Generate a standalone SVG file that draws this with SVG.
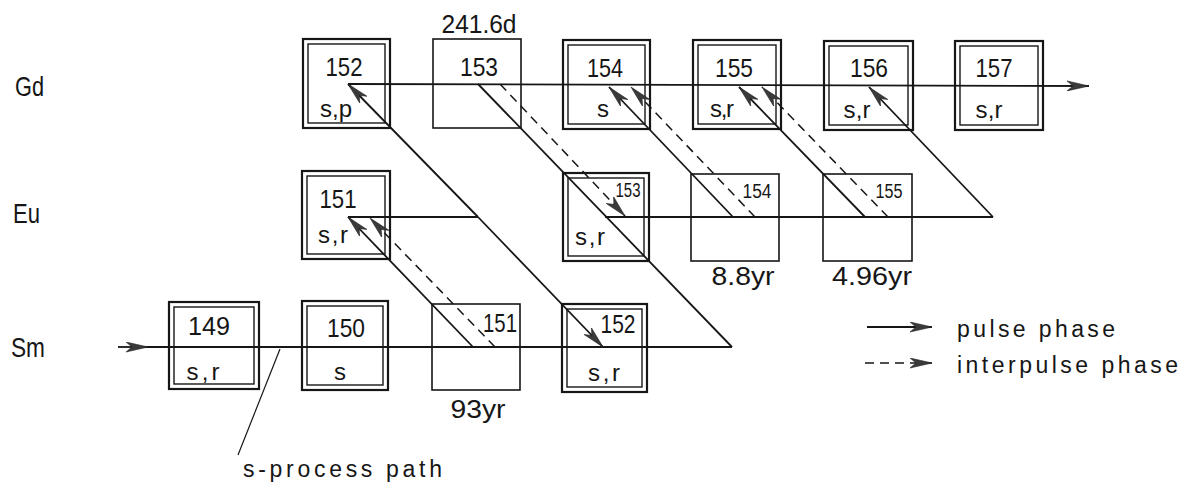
<svg xmlns="http://www.w3.org/2000/svg" width="1184" height="484" viewBox="0 0 1184 484">
  <style>
    text { font-family: "Liberation Sans", Arial, sans-serif; fill: #161616; }
    .num { font-size: 25px; text-anchor: middle; }
    .sm-num { font-size: 20px; text-anchor: middle; }
    .tag { font-size: 24px; text-anchor: middle; }
    .half { font-size: 26px; text-anchor: middle; }
    .elem { font-size: 28px; }
    .note { font-size: 23px; }
    .outer { fill: none; stroke: #161616; stroke-width: 2.2; }
    .inner { fill: none; stroke: #161616; stroke-width: 1.4; }
    .single { fill: none; stroke: #161616; stroke-width: 1.6; }
    .path { fill: none; stroke: #161616; stroke-width: 1.8; }
    .dash { fill: none; stroke: #161616; stroke-width: 1.5; stroke-dasharray: 9 6; }
    .thin { fill: none; stroke: #161616; stroke-width: 1.2; }
  </style>
  <defs>
    <marker id="dart" markerUnits="userSpaceOnUse" markerWidth="23" markerHeight="11" refX="22" refY="5.5" orient="auto">
      <path d="M0,0.5 L22,5.5 L0,10.5 L6,5.5 Z" fill="#3a3a3a" stroke="#222" stroke-width="0.6"/>
    </marker>
  </defs>
  <rect width="1184" height="484" fill="#ffffff"/>

  <!-- element rows -->
  <g id="row-labels">
    <text class="elem" x="15" y="96" textLength="29" lengthAdjust="spacingAndGlyphs">Gd</text>
    <text class="elem" x="13" y="223" textLength="27" lengthAdjust="spacingAndGlyphs">Eu</text>
    <text class="elem" x="11" y="357" textLength="34" lengthAdjust="spacingAndGlyphs">Sm</text>
  </g>

  <!-- Gd isotopes -->
  <g id="gd152">
    <rect class="outer" x="303" y="39" width="87" height="89"/>
    <rect class="inner" x="308" y="44" width="77" height="79"/>
    <text class="num" x="344" y="76" textLength="37" lengthAdjust="spacingAndGlyphs">152</text>
    <text class="tag" x="336" y="117" textLength="32">s,p</text>
  </g>
  <g id="gd153">
    <rect class="single" x="433" y="39" width="88" height="89"/>
    <text class="num" x="479" y="76" textLength="38" lengthAdjust="spacingAndGlyphs">153</text>
    <text class="half" x="479" y="33" textLength="75" lengthAdjust="spacingAndGlyphs">241.6d</text>
  </g>
  <g id="gd154">
    <rect class="outer" x="563" y="40" width="87" height="89"/>
    <rect class="inner" x="568" y="45" width="77" height="79"/>
    <text class="num" x="605" y="77" textLength="36" lengthAdjust="spacingAndGlyphs">154</text>
    <text class="tag" x="603" y="117">s</text>
  </g>
  <g id="gd155">
    <rect class="outer" x="693" y="40" width="88" height="89"/>
    <rect class="inner" x="698" y="45" width="78" height="79"/>
    <text class="num" x="734" y="77" textLength="38" lengthAdjust="spacingAndGlyphs">155</text>
    <text class="tag" x="722" y="117" textLength="24">s,r</text>
  </g>
  <g id="gd156">
    <rect class="outer" x="824" y="41" width="89" height="89"/>
    <rect class="inner" x="829" y="46" width="79" height="79"/>
    <text class="num" x="869" y="77" textLength="38" lengthAdjust="spacingAndGlyphs">156</text>
    <text class="tag" x="857" y="118" textLength="27">s,r</text>
  </g>
  <g id="gd157">
    <rect class="outer" x="955" y="41" width="88" height="89"/>
    <rect class="inner" x="960" y="46" width="78" height="79"/>
    <text class="num" x="994" y="77" textLength="37" lengthAdjust="spacingAndGlyphs">157</text>
    <text class="tag" x="989" y="118" textLength="27">s,r</text>
  </g>

  <!-- Eu isotopes -->
  <g id="eu151">
    <rect class="outer" x="302" y="171" width="88" height="88"/>
    <rect class="inner" x="307" y="176" width="78" height="78"/>
    <text class="num" x="338" y="208" textLength="37" lengthAdjust="spacingAndGlyphs">151</text>
    <text class="tag" x="333" y="243" textLength="30">s,r</text>
  </g>
  <g id="eu153">
    <rect class="outer" x="563" y="173" width="86" height="88"/>
    <rect class="inner" x="568" y="178" width="76" height="78"/>
    <text class="sm-num" x="628" y="197" font-size="18" textLength="25" lengthAdjust="spacingAndGlyphs">153</text>
    <text class="tag" x="590" y="245" textLength="30">s,r</text>
  </g>
  <g id="eu154">
    <rect class="single" x="691" y="174" width="88" height="87"/>
    <text class="sm-num" x="757" y="198" textLength="29" lengthAdjust="spacingAndGlyphs">154</text>
    <text class="half" x="743" y="285" textLength="63" lengthAdjust="spacingAndGlyphs">8.8yr</text>
  </g>
  <g id="eu155">
    <rect class="single" x="823" y="174" width="89" height="87"/>
    <text class="sm-num" x="889" y="198" textLength="27" lengthAdjust="spacingAndGlyphs">155</text>
    <text class="half" x="872" y="285" textLength="80" lengthAdjust="spacingAndGlyphs">4.96yr</text>
  </g>

  <!-- Sm isotopes -->
  <g id="sm149">
    <rect class="outer" x="169" y="302" width="90" height="87"/>
    <rect class="inner" x="174" y="307" width="80" height="77"/>
    <text class="num" x="209" y="335" textLength="42" lengthAdjust="spacingAndGlyphs">149</text>
    <text class="tag" x="203" y="380" textLength="33">s,r</text>
  </g>
  <g id="sm150">
    <rect class="outer" x="302" y="301" width="86" height="89"/>
    <rect class="inner" x="307" y="306" width="76" height="79"/>
    <text class="num" x="346" y="337" textLength="38" lengthAdjust="spacingAndGlyphs">150</text>
    <text class="tag" x="340" y="380">s</text>
  </g>
  <g id="sm151">
    <rect class="single" x="432" y="304" width="88" height="86"/>
    <text class="num" x="500" y="332" textLength="34" lengthAdjust="spacingAndGlyphs">151</text>
    <text class="half" x="478" y="418" font-size="25" textLength="55" lengthAdjust="spacingAndGlyphs">93yr</text>
  </g>
  <g id="sm152">
    <rect class="outer" x="562" y="304" width="85" height="88"/>
    <rect class="inner" x="567" y="309" width="75" height="78"/>
    <text class="num" x="618" y="333" textLength="35" lengthAdjust="spacingAndGlyphs">152</text>
    <text class="tag" x="604" y="381" textLength="32">s,r</text>
  </g>

  <!-- reaction paths -->
  <g id="connectors">
    <!-- neutron captures along each row -->
    <path class="path" d="M348,84 L1089,86" marker-end="url(#dart)"/>
    <path class="path" d="M348,217 L478,217"/>
    <path class="path" d="M605,217 L993,217"/>
    <path class="path" d="M118,347 L148,347" marker-end="url(#dart)"/>
    <path class="path" d="M147,347 L732,347"/>

    <!-- beta branchings -->
    <path class="path" d="M478,84 L732,347"/>
    <path class="path" d="M478,217 L348,84" marker-end="url(#dart)"/>
    <path class="path" d="M478,217 L603,347" marker-end="url(#dart)"/>
    <path class="path" d="M473,347 L348,217" marker-end="url(#dart)"/>
    <path class="dash" d="M495,347 L370,218" marker-end="url(#dart)"/>
    <path class="dash" d="M500,84 L625,216" marker-end="url(#dart)"/>
    <path class="path" d="M733,217 L609,87" marker-end="url(#dart)"/>
    <path class="dash" d="M755,217 L631,87" marker-end="url(#dart)"/>
    <path class="path" d="M865,217 L739,87" marker-end="url(#dart)"/>
    <path class="dash" d="M888,217 L762,87" marker-end="url(#dart)"/>
    <path class="path" d="M993,217 L869,87" marker-end="url(#dart)"/>
  </g>

  <!-- s-process path callout -->
  <g id="callout">
    <path class="thin" d="M280,349 L238,455"/>
    <text class="note" x="243" y="477" textLength="199">s-process path</text>
  </g>

  <!-- legend -->
  <g id="legend">
    <path class="path" d="M867,327 L932,327" marker-end="url(#dart)"/>
    <path class="dash" d="M865,363 L932,363" marker-end="url(#dart)"/>
    <text class="note" x="957" y="337" textLength="158">pulse phase</text>
    <text class="note" x="957" y="373" textLength="221">interpulse phase</text>
  </g>
</svg>
